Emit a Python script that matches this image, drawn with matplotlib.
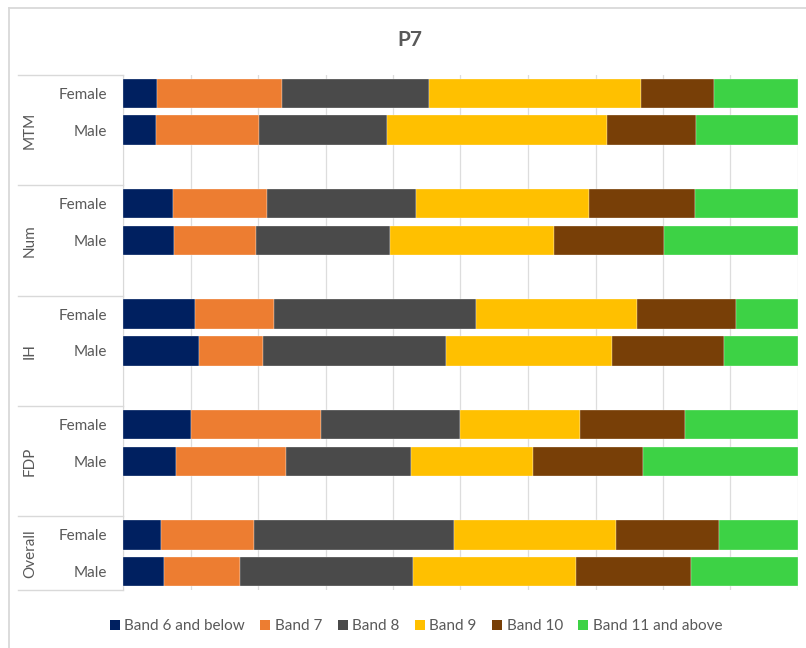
import matplotlib.pyplot as plt
import numpy as np
from matplotlib.patches import Patch
from matplotlib.lines import Line2D
import matplotlib.transforms as mtransforms

plt.rcParams['font.family'] = ['Lato', 'DejaVu Sans']

# Data (percent of staff in each band)
groups = ['MTM', 'Num', 'IH', 'FDP', 'Overall']
genders = ['Female', 'Male']
bands = ['Band 6 and below', 'Band 7', 'Band 8', 'Band 9', 'Band 10', 'Band 11 and above']
colors = ['#002060', '#ED7D31', '#4A4A4A', '#FFC000', '#783F07', '#3DD245']

# rows: MTM F, MTM M, Num F, Num M, IH F, IH M, FDP F, FDP M, Overall F, Overall M
band6 = [5.1, 4.9, 7.4, 7.6, 10.7, 11.2, 10.0, 7.8, 5.7, 6.0]
band7 = [18.4, 15.2, 14.0, 12.1, 11.6, 9.5, 19.4, 16.4, 13.7, 11.3]
band8 = [21.8, 19.0, 22.0, 19.9, 30.0, 27.2, 20.6, 18.5, 29.6, 25.6]
band9 = [31.4, 32.6, 25.6, 24.2, 23.9, 24.5, 17.7, 18.0, 24.1, 24.2]
band10 = [10.9, 13.2, 15.7, 16.4, 14.6, 16.6, 15.5, 16.4, 15.2, 17.1]
band11 = [12.4, 15.1, 15.3, 19.8, 9.2, 11.0, 16.8, 22.9, 11.7, 15.8]

series = [band6, band7, band8, band9, band10, band11]

# each group takes 3 slots (Female, Male, gap); the last group has no gap
ypos = []
for g in range(len(groups)):
    ypos += [g * 3 + 0.5, g * 3 + 1.5]
ypos = np.array(ypos)
ylabels = genders * len(groups)

fig = plt.figure(figsize=(8.06, 6.48), dpi=100)
ax = fig.add_axes([123 / 806, 1 - 590 / 648, 675 / 806, 515 / 648])

left = np.zeros(len(ypos))
for vals, col, name in zip(series, colors, bands):
    vals = np.array(vals)
    ax.barh(ypos, vals, left=left, height=0.8, color=col, label=name,
            edgecolor='white', linewidth=0.2, zorder=3)
    left += vals

ax.set_xlim(0, 100)
ax.set_ylim(14, 0)
ax.set_xticks(np.arange(0, 101, 10))
ax.set_xticklabels([])
ax.tick_params(axis='x', length=0)
ax.set_yticks(ypos)
ax.set_yticklabels(ylabels, fontsize=11, color='#595959')
ax.tick_params(axis='y', length=0, pad=11.5)
ax.grid(axis='x', color='#DDDDDD', linewidth=0.9, zorder=0)

for s in ['top', 'right', 'bottom']:
    ax.spines[s].set_visible(False)
ax.spines['left'].set_color('#D9D9D9')

# group separators and group names on the category axis
trans = mtransforms.blended_transform_factory(ax.transAxes, ax.transData)
x0 = (18 - 123) / 675
for b in [0, 3, 6, 9, 12, 14]:
    ax.plot([x0, 0], [b, b], transform=trans, color='#D9D9D9', lw=1,
            clip_on=False)
centers = [1.5, 4.5, 7.5, 10.5, 13]
xl = (30 - 123) / 675
for name, c in zip(groups, centers):
    ax.text(xl, c, name, transform=trans, rotation=90, ha='center',
            va='center', fontsize=11, color='#595959')

fig.text(410 / 806, 1 - 40 / 648, 'P7', ha='center', va='center',
         fontsize=15, fontweight='bold', color='#595959')

handles = [Patch(facecolor=c, edgecolor='none') for c in colors]
fig.legend(handles, bands, loc='center', bbox_to_anchor=(416 / 806, 1 - 626 / 648),
           ncol=6, frameon=False, fontsize=11, labelcolor='#595959',
           handlelength=0.65, handleheight=0.65, handletextpad=0.3,
           columnspacing=1.0)

# chart area outline
fig.add_artist(Line2D([8.5 / 806, 8.5 / 806], [0, 1 - 7.5 / 648], color='#D9D9D9', lw=1.3))
fig.add_artist(Line2D([8.5 / 806, 1], [1 - 7.5 / 648, 1 - 7.5 / 648], color='#D9D9D9', lw=1.3))

fig.savefig('out.png', dpi=100)
